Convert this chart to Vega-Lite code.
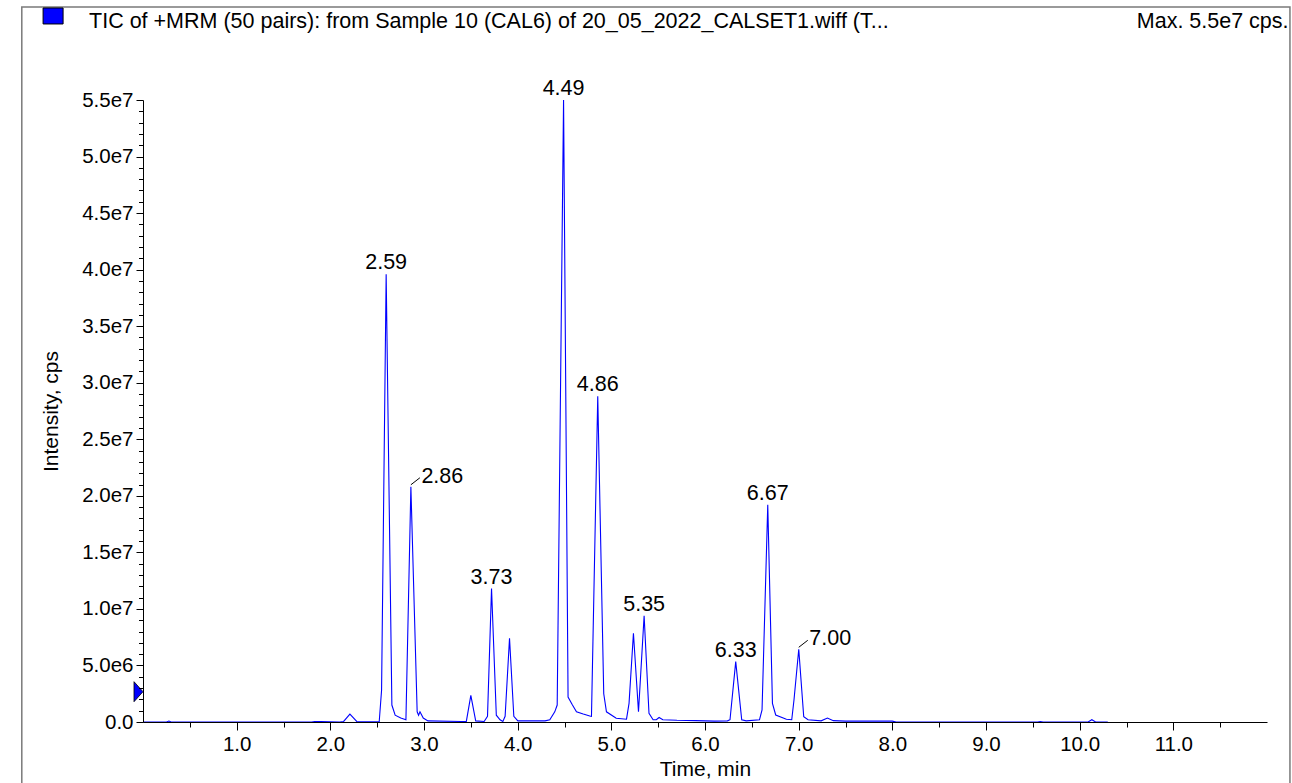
{
  "$schema": "https://vega.github.io/schema/vega-lite/v6.json",
  "width": 1124,
  "height": 622,
  "autosize": "none",
  "padding": {"left": 143, "top": 100, "right": 25, "bottom": 61},
  "background": "white",
  "config": {
    "view": {"stroke": null},
    "font": "Liberation Sans",
    "text": {"font": "Liberation Sans", "fontSize": 21.5, "color": "black"},
    "axis": {"labelOverlap": false}
  },
  "resolve": {"axis": {"y": "independent"}},
  "datasets": {
    "trace": [
      {"t": 0, "I": 0}, {"t": 0.25, "I": 0}, {"t": 0.277, "I": 80000}, {"t": 0.3, "I": 0},
      {"t": 1.8, "I": 0}, {"t": 1.832, "I": 50000}, {"t": 1.9, "I": 30000}, {"t": 2.1, "I": 0},
      {"t": 2.142, "I": 50000}, {"t": 2.209, "I": 700000}, {"t": 2.282, "I": 50000}, {"t": 2.4, "I": 20000},
      {"t": 2.522, "I": 50000}, {"t": 2.547, "I": 2800000}, {"t": 2.596, "I": 39600000}, {"t": 2.657, "I": 1500000},
      {"t": 2.692, "I": 600000}, {"t": 2.752, "I": 350000}, {"t": 2.807, "I": 200000}, {"t": 2.86, "I": 20800000},
      {"t": 2.927, "I": 900000}, {"t": 2.942, "I": 600000}, {"t": 2.957, "I": 900000}, {"t": 2.992, "I": 350000},
      {"t": 3.042, "I": 100000}, {"t": 3.4, "I": 50000}, {"t": 3.452, "I": 50000}, {"t": 3.5, "I": 2360000},
      {"t": 3.552, "I": 100000}, {"t": 3.642, "I": 50000}, {"t": 3.678, "I": 500000}, {"t": 3.721, "I": 11800000},
      {"t": 3.772, "I": 600000}, {"t": 3.812, "I": 200000}, {"t": 3.842, "I": 50000}, {"t": 3.866, "I": 500000},
      {"t": 3.913, "I": 7400000}, {"t": 3.959, "I": 500000}, {"t": 4.002, "I": 100000}, {"t": 4.292, "I": 100000},
      {"t": 4.343, "I": 200000}, {"t": 4.396, "I": 900000}, {"t": 4.422, "I": 1500000}, {"t": 4.49, "I": 55000000},
      {"t": 4.538, "I": 2200000}, {"t": 4.585, "I": 1500000}, {"t": 4.628, "I": 900000}, {"t": 4.7, "I": 700000},
      {"t": 4.77, "I": 530000}, {"t": 4.788, "I": 500000}, {"t": 4.855, "I": 28800000}, {"t": 4.919, "I": 2500000},
      {"t": 4.948, "I": 900000}, {"t": 5.052, "I": 330000}, {"t": 5.162, "I": 250000}, {"t": 5.189, "I": 1650000},
      {"t": 5.236, "I": 7850000}, {"t": 5.29, "I": 900000}, {"t": 5.35, "I": 9400000}, {"t": 5.402, "I": 770000},
      {"t": 5.446, "I": 200000}, {"t": 5.48, "I": 200000}, {"t": 5.51, "I": 400000}, {"t": 5.55, "I": 200000},
      {"t": 5.7, "I": 150000}, {"t": 5.9, "I": 120000}, {"t": 6.1, "I": 80000}, {"t": 6.24, "I": 100000},
      {"t": 6.267, "I": 200000}, {"t": 6.328, "I": 5340000}, {"t": 6.392, "I": 200000}, {"t": 6.44, "I": 100000},
      {"t": 6.582, "I": 200000}, {"t": 6.609, "I": 1060000}, {"t": 6.67, "I": 19200000}, {"t": 6.72, "I": 1650000},
      {"t": 6.755, "I": 620000}, {"t": 6.869, "I": 240000}, {"t": 6.926, "I": 200000}, {"t": 6.95, "I": 1950000},
      {"t": 7.001, "I": 6430000}, {"t": 7.054, "I": 470000}, {"t": 7.1, "I": 200000}, {"t": 7.24, "I": 100000},
      {"t": 7.307, "I": 350000}, {"t": 7.37, "I": 120000}, {"t": 7.5, "I": 80000}, {"t": 8.0, "I": 80000},
      {"t": 8.04, "I": 0}, {"t": 9.55, "I": 0}, {"t": 9.58, "I": 30000}, {"t": 9.61, "I": 0},
      {"t": 10.09, "I": 0}, {"t": 10.13, "I": 200000}, {"t": 10.17, "I": 0}, {"t": 10.3, "I": 0}
    ],
    "peaks": [
      {"label": "2.59", "t": 2.596, "I": 39600000},
      {"label": "2.86", "t": 2.86, "I": 20800000},
      {"label": "3.73", "t": 3.721, "I": 11800000},
      {"label": "4.49", "t": 4.49, "I": 55000000},
      {"label": "4.86", "t": 4.855, "I": 28800000},
      {"label": "5.35", "t": 5.35, "I": 9400000},
      {"label": "6.33", "t": 6.328, "I": 5340000},
      {"label": "6.67", "t": 6.67, "I": 19200000},
      {"label": "7.00", "t": 7.001, "I": 6430000}
    ]
  },
  "layer": [
    {
      "data": {"name": "trace"},
      "mark": {"type": "line", "color": "#0000ff", "strokeWidth": 1.1, "interpolate": "linear", "clip": false},
      "encoding": {
        "x": {
          "field": "t", "type": "quantitative",
          "scale": {"domain": [0, 12], "nice": false, "zero": false},
          "axis": {
            "title": "Time, min",
            "zindex": 1,
            "grid": false,
            "values": [0.5, 1, 1.5, 2, 2.5, 3, 3.5, 4, 4.5, 5, 5.5, 6, 6.5, 7, 7.5, 8, 8.5, 9, 9.5, 10, 10.5, 11, 11.5],
            "labelExpr": "datum.value % 1 === 0 ? format(datum.value, '.1f') : ''",
            "tickSize": {"condition": {"test": "datum.value % 1 === 0", "value": 8}, "value": 5},
            "domainColor": "black",
            "domainWidth": 1,
            "tickColor": "black",
            "tickWidth": 1,
            "labelFont": "Liberation Sans",
            "labelFontSize": 20.5,
            "labelColor": "black",
            "labelPadding": 4,
            "labelFlush": false,
            "labelOverlap": false,
            "titleFont": "Liberation Sans",
            "titleFontSize": 21,
            "titleFontWeight": "normal",
            "titleColor": "black",
            "titlePadding": 4
          }
        },
        "y": {
          "field": "I", "type": "quantitative",
          "scale": {"domain": [0, 55000000], "nice": false},
          "axis": {
            "orient": "left",
            "title": "Intensity, cps",
            "zindex": 1,
            "grid": false,
            "values": [0, 5000000, 10000000, 15000000, 20000000, 25000000, 30000000, 35000000, 40000000, 45000000, 50000000, 55000000],
            "labelExpr": "datum.value === 0 ? '0.0' : replace(format(datum.value, '.1e'), 'e+', 'e')",
            "tickSize": 7,
            "domainColor": "black",
            "domainWidth": 1,
            "tickColor": "black",
            "tickWidth": 1,
            "labelFont": "Liberation Sans",
            "labelFontSize": 20.5,
            "labelColor": "black",
            "labelPadding": 3,
            "labelFlush": false,
            "labelOverlap": false,
            "titleFont": "Liberation Sans",
            "titleFontSize": 21,
            "titleFontWeight": "normal",
            "titleColor": "black",
            "titlePadding": 20
          }
        }
      }
    },
    {
      "data": {"name": "peaks"},
      "transform": [{"filter": {"not": {"field": "label", "oneOf": ["2.86", "7.00"]}}}],
      "mark": {"type": "text", "align": "center", "baseline": "alphabetic", "dy": -5, "clip": false},
      "encoding": {
        "x": {"field": "t", "type": "quantitative"},
        "y": {
          "field": "I", "type": "quantitative",
          "axis": {
            "orient": "left",
            "title": null,
            "zindex": 1,
            "grid": false,
            "domain": false,
            "labels": false,
            "values": [1000000, 2000000, 3000000, 4000000, 6000000, 7000000, 8000000, 9000000, 11000000, 12000000, 13000000, 14000000, 16000000, 17000000, 18000000, 19000000, 21000000, 22000000, 23000000, 24000000, 26000000, 27000000, 28000000, 29000000, 31000000, 32000000, 33000000, 34000000, 36000000, 37000000, 38000000, 39000000, 41000000, 42000000, 43000000, 44000000, 46000000, 47000000, 48000000, 49000000, 51000000, 52000000, 53000000, 54000000],
            "tickSize": 4.5,
            "tickColor": "black",
            "tickWidth": 1
          }
        },
        "text": {"field": "label"}
      }
    },
    {
      "data": {"name": "peaks"},
      "transform": [{"filter": {"field": "label", "oneOf": ["2.86", "7.00"]}}],
      "mark": {"type": "text", "align": "left", "baseline": "alphabetic", "dx": 10.5, "dy": -4, "clip": false},
      "encoding": {
        "x": {"field": "t", "type": "quantitative"},
        "y": {"field": "I", "type": "quantitative", "axis": null},
        "text": {"field": "label"}
      }
    },
    {
      "data": {"name": "peaks"},
      "transform": [{"filter": {"field": "label", "oneOf": ["2.86", "7.00"]}}],
      "mark": {"type": "rule", "color": "black", "strokeWidth": 1, "xOffset": 0, "yOffset": -2, "x2Offset": 9, "y2Offset": -9, "clip": false},
      "encoding": {
        "x": {"field": "t", "type": "quantitative"},
        "y": {"field": "I", "type": "quantitative", "axis": null},
        "x2": {"field": "t"},
        "y2": {"field": "I"}
      }
    },
    {
      "data": {"values": [{}]},
      "mark": {"type": "rect", "fill": null, "fillOpacity": 0, "stroke": "#7a7a7a", "strokeWidth": 1.5, "clip": false},
      "encoding": {
        "x": {"datum": -1.294, "type": "quantitative"},
        "x2": {"datum": 12.245},
        "y": {"datum": 63220000, "type": "quantitative", "axis": null},
        "y2": {"datum": -10000000}
      }
    },
    {
      "data": {"values": [{}]},
      "mark": {"type": "text", "align": "left", "baseline": "alphabetic", "clip": false},
      "encoding": {
        "x": {"datum": -0.576, "type": "quantitative"},
        "y": {"datum": 61370000, "type": "quantitative", "axis": null},
        "text": {"value": "TIC of +MRM (50 pairs): from Sample 10 (CAL6) of 20_05_2022_CALSET1.wiff (T..."}
      }
    },
    {
      "data": {"values": [{}]},
      "mark": {"type": "text", "align": "right", "baseline": "alphabetic", "clip": false},
      "encoding": {
        "x": {"datum": 12.23, "type": "quantitative"},
        "y": {"datum": 61370000, "type": "quantitative", "axis": null},
        "text": {"value": "Max. 5.5e7 cps."}
      }
    },
    {
      "data": {"values": [{}]},
      "mark": {"type": "point", "shape": "M-1,-0.8L1,-0.8L1,0.8L-1,0.8Z", "size": 400, "filled": true, "fill": "#0000ff", "stroke": "black", "strokeWidth": 1, "opacity": 1, "clip": false},
      "encoding": {
        "x": {"datum": -0.96, "type": "quantitative"},
        "y": {"datum": 62430000, "type": "quantitative", "axis": null}
      }
    },
    {
      "data": {"values": [{}]},
      "mark": {"type": "point", "shape": "M-0.45,-1L0.45,0L-0.45,1Z", "size": 400, "filled": true, "fill": "#0000ff", "stroke": "black", "strokeWidth": 0.8, "opacity": 1, "xOffset": -4.5, "clip": false},
      "encoding": {
        "x": {"datum": 0, "type": "quantitative"},
        "y": {"datum": 2680000, "type": "quantitative", "axis": null}
      }
    }
  ]
}
